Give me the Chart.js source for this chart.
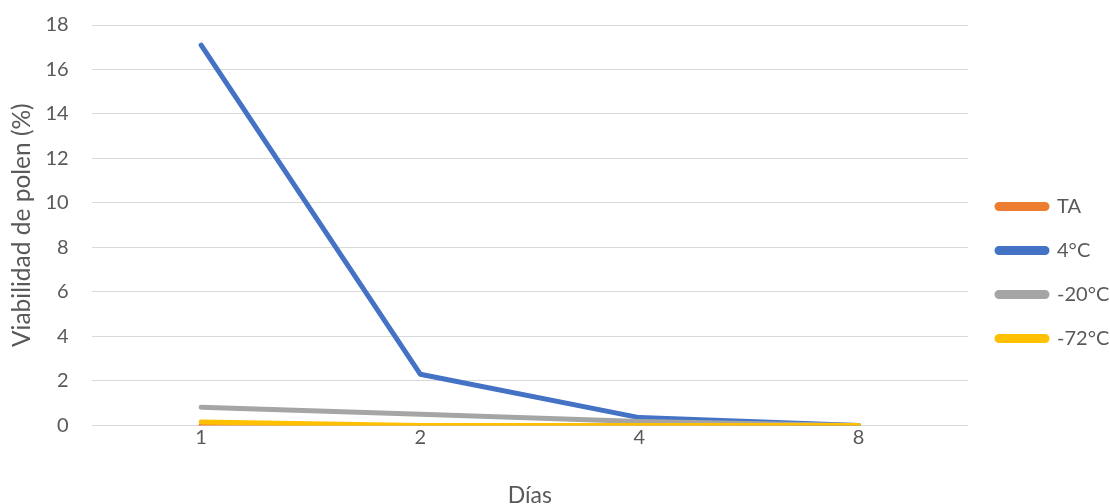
<!DOCTYPE html>
<html>
<head>
<meta charset="utf-8">
<script src="https://cdn.jsdelivr.net/npm/chart.js@4.4.1/dist/chart.umd.min.js"></script>
<style>
  html, body { margin: 0; padding: 0; background: #fff; }
  #wrap { width: 1110px; height: 504px; }
</style>
</head>
<body>
<div id="wrap"><canvas id="myChart" width="1110" height="504"></canvas></div>
<script>
const days = ["1", "2", "4", "8"];
const ta = [0, 0, 0, 0];
const c4 = [17.1, 2.3, 0.35, 0];
const cMinus20 = [0.82, 0.5, 0.17, 0];
const cMinus72 = [0.15, 0, 0, 0];

const font = "Lato, 'Open Sans', sans-serif";
const textColor = "#595959";

const mkSet = (label, data, color, order) => ({
  label,
  data,
  borderColor: color,
  backgroundColor: color,
  borderWidth: 5,
  pointRadius: 0,
  tension: 0,
  borderCapStyle: "round",
  borderJoinStyle: "round",
  fill: false,
  order,
});

// fixed legend column so the plot ends where it should
const legendWidth = {
  id: "legendWidth",
  afterInit(chart) {
    const lg = chart.legend;
    const fit = lg.fit.bind(lg);
    lg.fit = function () {
      fit();
      this.width = 142;
    };
  },
  afterLayout(chart) {
    chart.legend.left += 5;
  },
};

const config = {
  type: "line",
  data: {
    labels: days,
    datasets: [
      mkSet("TA", ta, "#ED7D31", 4),
      mkSet("4°C", c4, "#4472C4", 3),
      mkSet("-20°C", cMinus20, "#A5A5A5", 2),
      mkSet("-72°C", cMinus72, "#FFC000", 1),
    ],
  },
  options: {
    responsive: false,
    animation: false,
    layout: { padding: { top: 0, right: 0, left: 0, bottom: -41 } },
    plugins: {
      tooltip: { enabled: false },
      legend: {
        position: "right",
        align: "center",
        labels: {
          boxWidth: 50,
          boxHeight: 4,
          useBorderRadius: true,
          borderRadius: 2,
          padding: 24,
          color: textColor,
          font: { family: font, size: 20 },
          sort: (a, b) => a.datasetIndex - b.datasetIndex,
        },
      },
    },
    scales: {
      x: {
        offset: true,
        grid: { display: false, drawTicks: false },
        border: { display: false },
        ticks: { color: textColor, font: { family: font, size: 20 }, padding: 0 },
        title: {
          display: true,
          text: "Días",
          color: textColor,
          font: { family: font, size: 23 },
          padding: { top: 32, bottom: 36 },
        },
      },
      y: {
        min: 0,
        max: 18,
        ticks: { stepSize: 2, color: textColor, font: { family: font, size: 20 }, padding: 23 },
        grid: { color: "#D9D9D9", lineWidth: 1, drawTicks: false },
        border: { display: false },
        title: {
          display: true,
          text: "Viabilidad de polen (%)",
          color: textColor,
          font: { family: font, size: 24.5 },
          padding: { top: 7, bottom: -14 },
        },
        afterFit(scale) {
          scale.paddingTop = 25;
          scale.paddingBottom = 0;
        },
      },
    },
  },
  plugins: [legendWidth],
};

new Chart(document.getElementById("myChart"), config);
</script>
</body>
</html>
